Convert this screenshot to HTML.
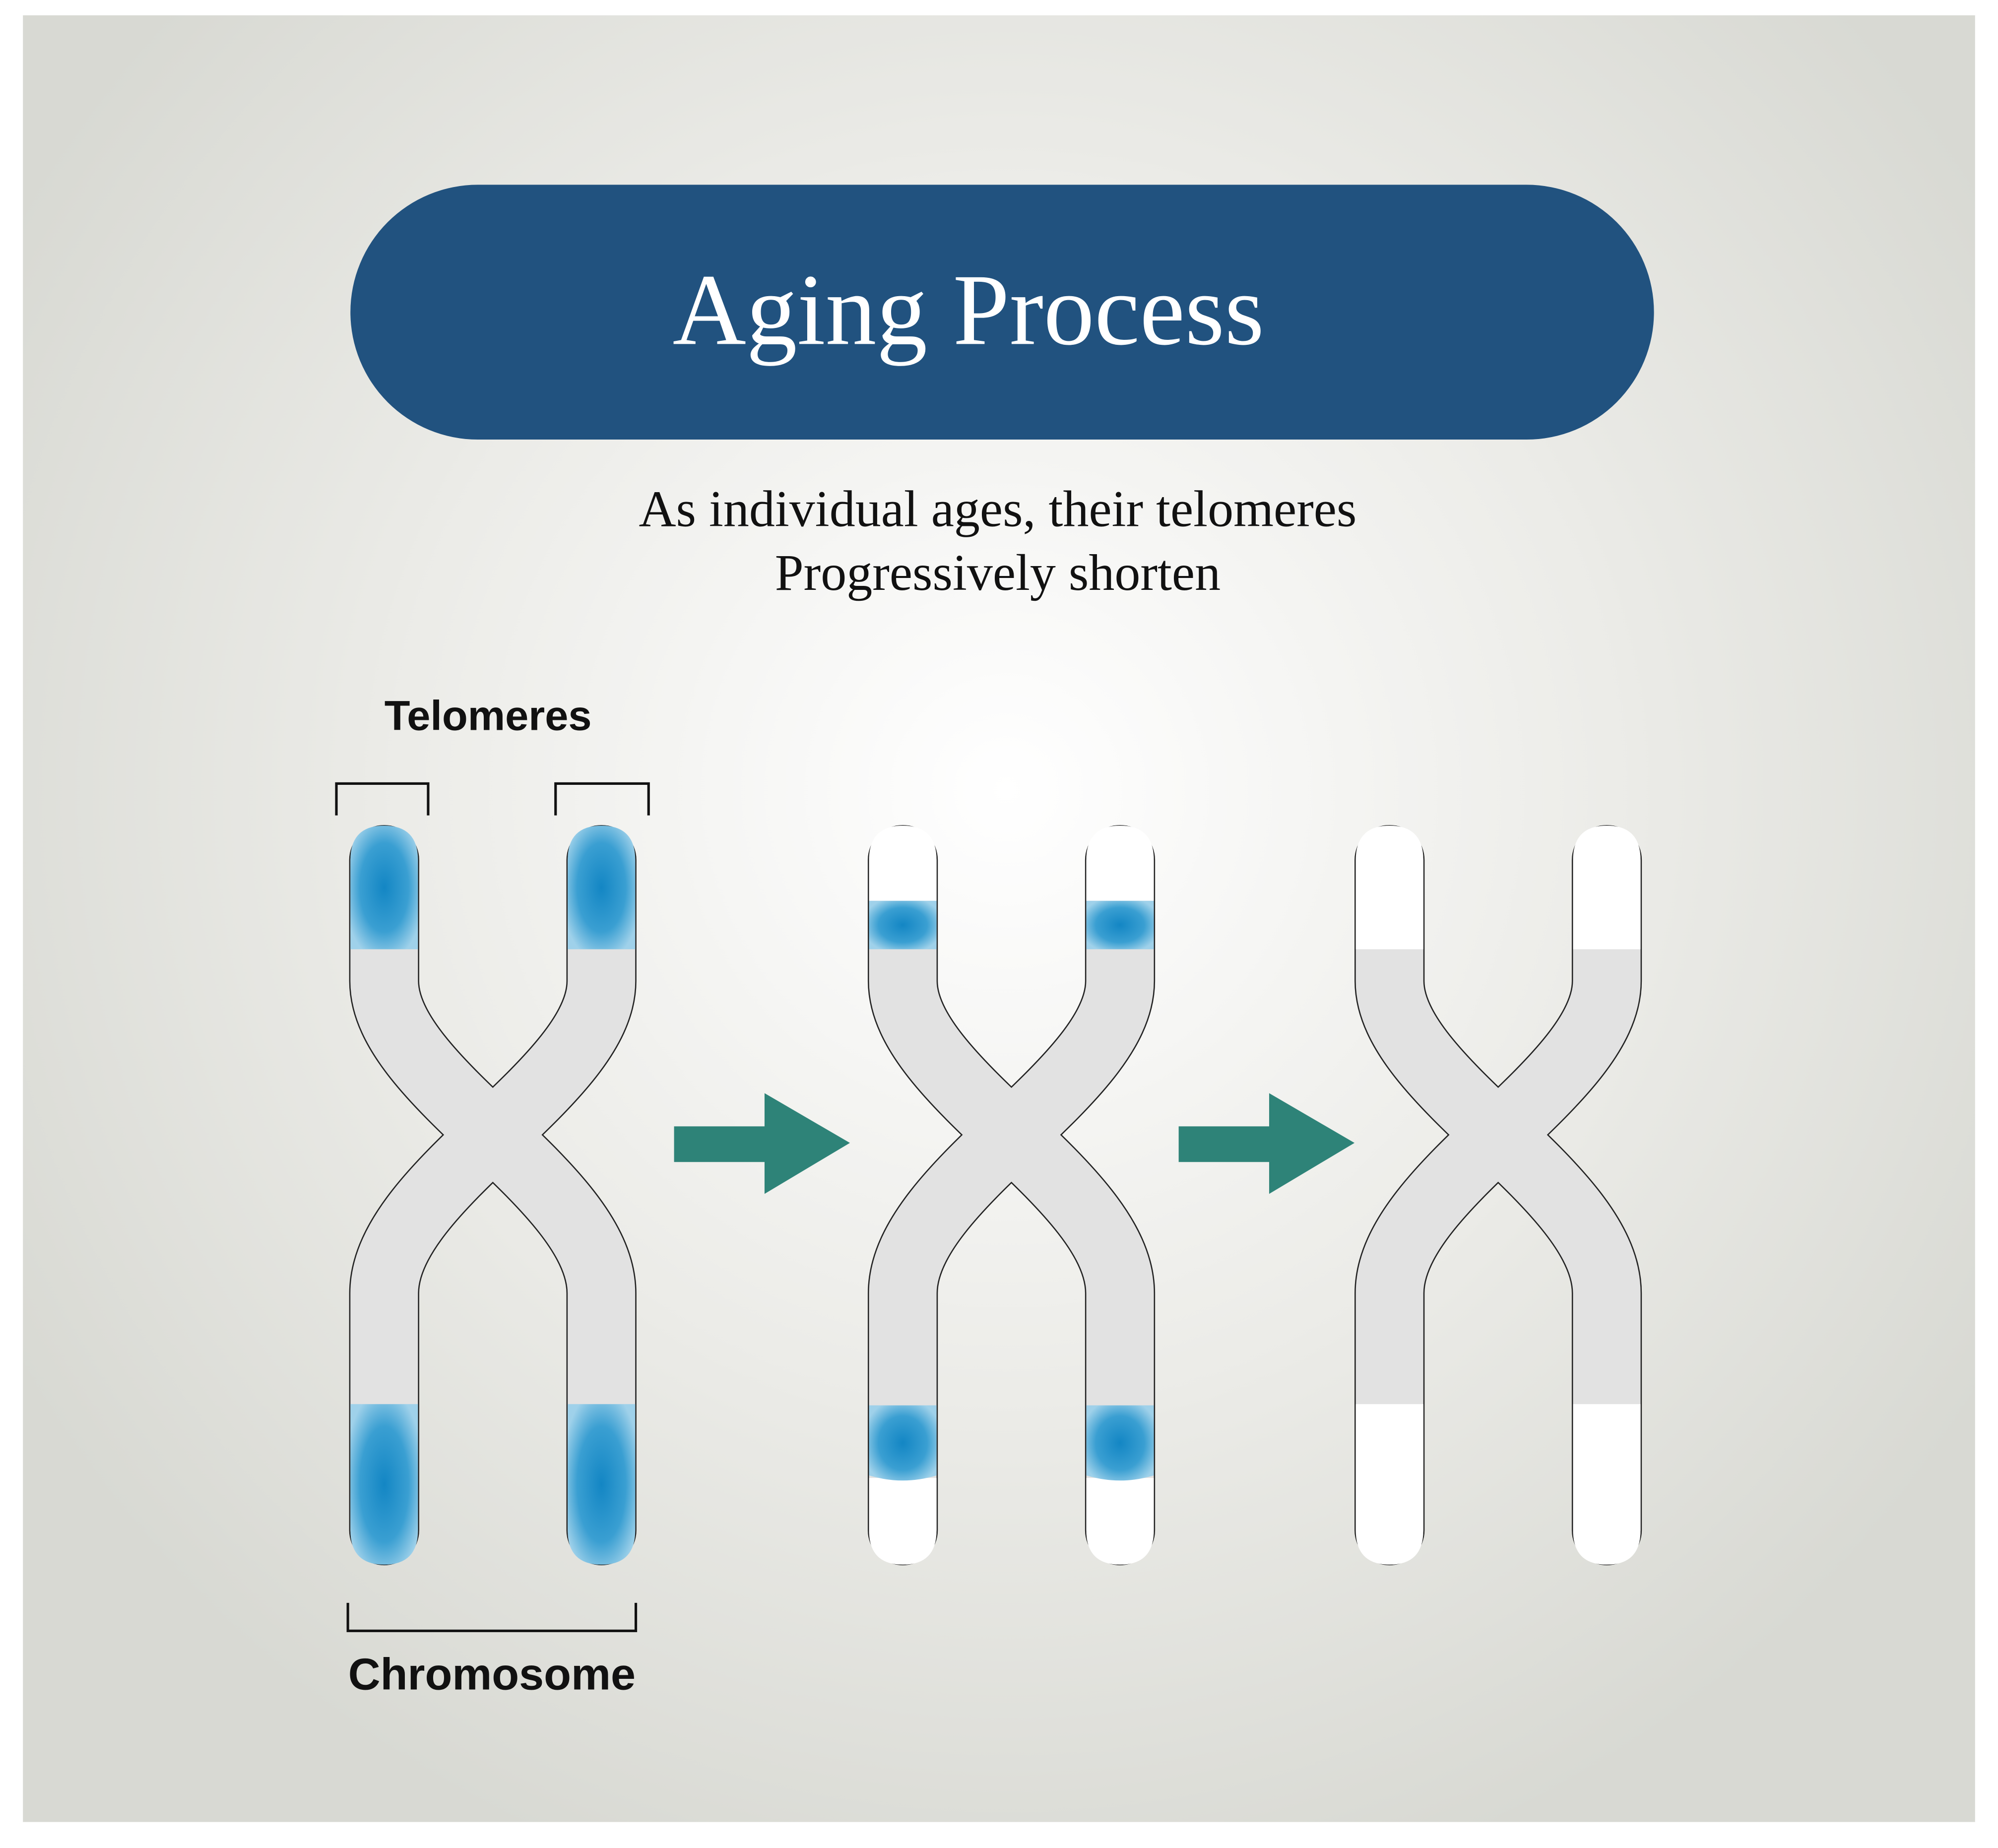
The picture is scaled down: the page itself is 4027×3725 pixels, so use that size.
<!DOCTYPE html>
<html><head><meta charset="utf-8"><style>
html,body{margin:0;padding:0;background:#fff;}
svg{display:block;}
</style></head><body>
<svg width="4027" height="3725" viewBox="0 0 1568 1450.4" xmlns="http://www.w3.org/2000/svg">
<defs>
<radialGradient id="bg" cx="790" cy="620" r="900" gradientUnits="userSpaceOnUse">
<stop offset="0" stop-color="#ffffff"/><stop offset="0.55" stop-color="#ebebe7"/><stop offset="1" stop-color="#d8d9d3"/>
</radialGradient>
<radialGradient id="blue" cx="0.5" cy="0.5" r="0.6">
<stop offset="0" stop-color="#1386c4"/><stop offset="0.6" stop-color="#3a9fd2"/><stop offset="1" stop-color="#9fd1ea"/>
</radialGradient>
<g id="xs">
<path d="M301.5,675 L301.5,770 C301.5,850 472,930 472,1015 L472,1201" fill="none" stroke="#222" stroke-width="55" stroke-linecap="round"/>
<path d="M472,675 L472,770 C472,850 301.5,930 301.5,1015 L301.5,1201" fill="none" stroke="#222" stroke-width="55" stroke-linecap="round"/>
<path d="M301.5,675 L301.5,770 C301.5,850 472,930 472,1015 L472,1201" fill="none" stroke="#e2e2e2" stroke-width="53" stroke-linecap="round"/>
<path d="M472,675 L472,770 C472,850 301.5,930 301.5,1015 L301.5,1201" fill="none" stroke="#e2e2e2" stroke-width="53" stroke-linecap="round"/>
</g>
</defs>
<rect x="0" y="0" width="1568" height="1450.4" fill="#fff"/>
<rect x="18" y="12" width="1532" height="1418" fill="url(#bg)"/>
<rect x="275" y="145" width="1023" height="200" rx="100" fill="#21527f"/>
<text x="760" y="270" text-anchor="middle" font-family="Liberation Serif, serif" font-size="80" fill="#fff">Aging Process</text>
<text x="783" y="413" text-anchor="middle" font-family="Liberation Serif, serif" font-size="40.5" fill="#111">As individual ages, their telomeres</text>
<text x="783" y="463" text-anchor="middle" font-family="Liberation Serif, serif" font-size="40.5" fill="#111">Progressively shorten</text>
<text x="383" y="573" text-anchor="middle" font-family="Liberation Sans, sans-serif" font-weight="bold" font-size="33" fill="#111">Telomeres</text>
<text x="386" y="1326" text-anchor="middle" font-family="Liberation Sans, sans-serif" font-weight="bold" font-size="35" fill="#111">Chromosome</text>
<g fill="none" stroke="#111" stroke-width="2">
<path d="M264,640 V615 H336 V640"/>
<path d="M436,640 V615 H509 V640"/>
<path d="M273,1258 V1280 H499 V1258"/>
</g>
<use href="#xs"/>
<g fill="url(#blue)">
<path d="M275,745 V675 Q275,648 301.5,648 Q328,648 328,675 V745 Z"/>
<path d="M445.5,745 V675 Q445.5,648 472,648 Q498.5,648 498.5,675 V745 Z"/>
<path d="M275,1102 V1201 Q275,1228 301.5,1228 Q328,1228 328,1201 V1102 Z"/>
<path d="M445.5,1102 V1201 Q445.5,1228 472,1228 Q498.5,1228 498.5,1201 V1102 Z"/>
</g>
<g transform="translate(407,0)">
<use href="#xs"/>
<g fill="#fff">
<path d="M275,707 V675 Q275,648 301.5,648 Q328,648 328,675 V707 Z"/>
<path d="M445.5,707 V675 Q445.5,648 472,648 Q498.5,648 498.5,675 V707 Z"/>
<path d="M275,1160 V1201 Q275,1228 301.5,1228 Q328,1228 328,1201 V1160 Z"/>
<path d="M445.5,1160 V1201 Q445.5,1228 472,1228 Q498.5,1228 498.5,1201 V1160 Z"/>
</g>
<g fill="url(#blue)">
<rect x="275" y="707" width="53" height="38"/>
<rect x="445.5" y="707" width="53" height="38"/>
<path d="M275,1103 H328 V1158 Q301.5,1166 275,1158 Z"/>
<path d="M445.5,1103 H498.5 V1158 Q472,1166 445.5,1158 Z"/>
</g>
</g>
<g transform="translate(789,0)">
<use href="#xs"/>
<g fill="#fff">
<path d="M275,745 V675 Q275,648 301.5,648 Q328,648 328,675 V745 Z"/>
<path d="M445.5,745 V675 Q445.5,648 472,648 Q498.5,648 498.5,675 V745 Z"/>
<path d="M275,1102 V1201 Q275,1228 301.5,1228 Q328,1228 328,1201 V1102 Z"/>
<path d="M445.5,1102 V1201 Q445.5,1228 472,1228 Q498.5,1228 498.5,1201 V1102 Z"/>
</g>
</g>
<g fill="#2e8378">
<path d="M529,884 H600 V858 L667,897 L600,937 V912 H529 Z"/>
<path d="M925,884 H996 V858 L1063,897 L996,937 V912 H925 Z"/>
</g>
</svg>
</body></html>
